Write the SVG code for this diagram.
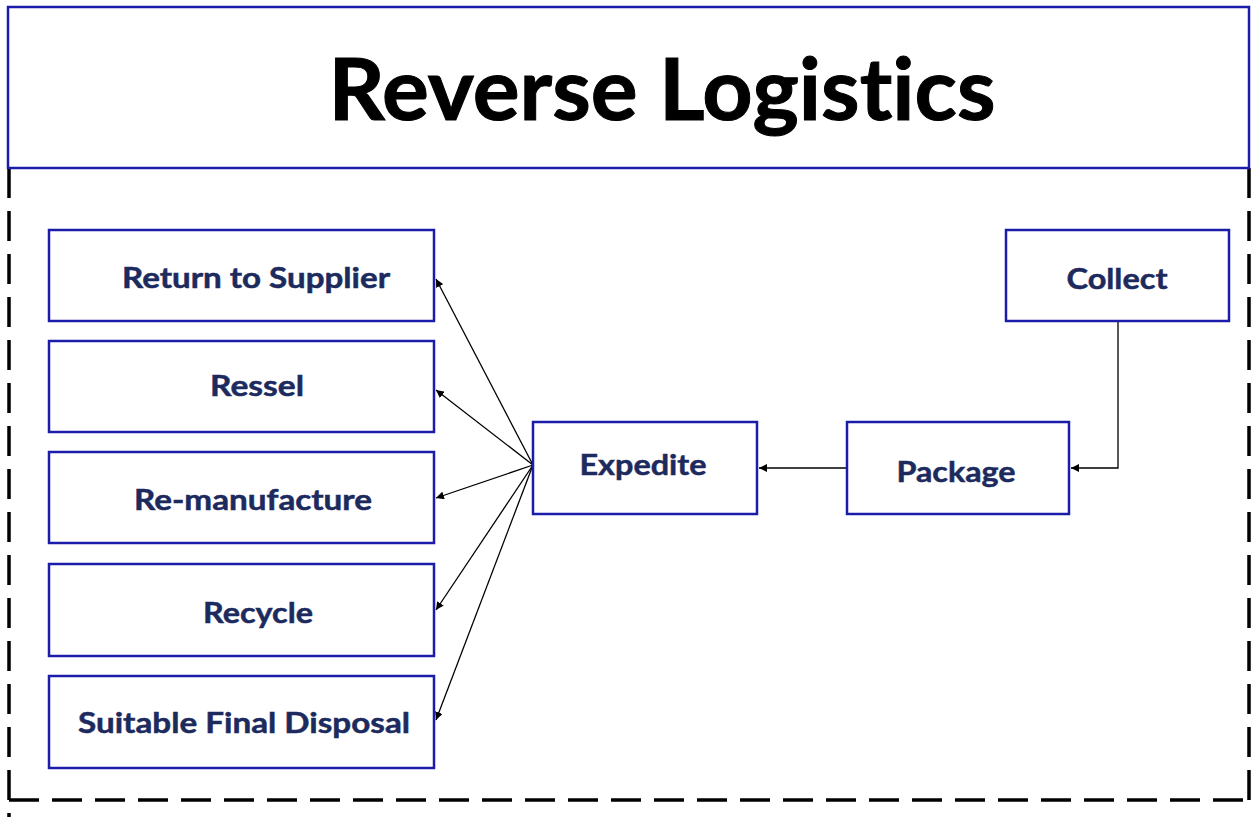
<svg xmlns="http://www.w3.org/2000/svg" width="1251" height="817" viewBox="0 0 1251 817">
<defs>
<style>
.box{fill:#fff;stroke:#1c1caa;stroke-width:2.5}
.lbl{font-family:Lato,"Liberation Sans",sans-serif;font-weight:bold;font-size:29px;fill:#1c2a5e;stroke:#1c2a5e;stroke-width:0.5;text-anchor:middle;font-variant-ligatures:none;font-feature-settings:"liga" 0,"clig" 0}
.title{font-family:Lato,"Liberation Sans",sans-serif;font-weight:bold;font-size:86px;fill:#000;stroke:#000;stroke-width:1;text-anchor:middle;font-variant-ligatures:none;font-feature-settings:"liga" 0,"clig" 0,"dlig" 0}
.dash{stroke:#000;stroke-width:3.5;stroke-dasharray:30 13;fill:none}
.con{stroke:#000;stroke-width:1.3;fill:none;marker-end:url(#ah)}
</style>
<marker id="ah" viewBox="0 0 10 10" refX="10" refY="5" markerWidth="8" markerHeight="8" markerUnits="userSpaceOnUse" orient="auto">
<path d="M0,0 L10,5 L0,10 z" fill="#000"/>
</marker>
</defs>
<rect width="1251" height="817" fill="#fff"/>
<g id="frame">
<path class="dash" d="M9,168 V817"/>
<path class="dash" d="M1249,168 V800"/>
<path class="dash" d="M9,800 H1251"/>
</g>
<g id="title">
<rect x="8" y="7" width="1241" height="161" class="box"/>
<text x="662" y="120" class="title" textLength="667" lengthAdjust="spacingAndGlyphs">Reverse Logistics</text>
</g>
<g id="connectors">
<path class="con" d="M533,465 L436,279"/>
<path class="con" d="M533,465 L436,390"/>
<path class="con" d="M533,465 L436,498"/>
<path class="con" d="M533,465 L436,610"/>
<path class="con" d="M533,465 L436,720"/>
<path class="con" d="M847,468 L759,468"/>
<path class="con" d="M1118,321 V468 H1071"/>
</g>
<g id="return">
<rect x="49" y="230" width="385" height="91" class="box"/>
<text x="256" y="288" class="lbl" textLength="268" lengthAdjust="spacingAndGlyphs">Return to Supplier</text>
</g>
<g id="ressel">
<rect x="49" y="341" width="385" height="91" class="box"/>
<text x="257" y="396" class="lbl" textLength="94" lengthAdjust="spacingAndGlyphs">Ressel</text>
</g>
<g id="remanufacture">
<rect x="49" y="452" width="385" height="91" class="box"/>
<text x="253" y="510" class="lbl" textLength="238" lengthAdjust="spacingAndGlyphs">Re-manufacture</text>
</g>
<g id="recycle">
<rect x="49" y="564" width="385" height="92" class="box"/>
<text x="258" y="623" class="lbl" textLength="110" lengthAdjust="spacingAndGlyphs">Recycle</text>
</g>
<g id="disposal">
<rect x="49" y="676" width="385" height="92" class="box"/>
<text x="244" y="733" class="lbl" textLength="332" lengthAdjust="spacingAndGlyphs">Suitable Final Disposal</text>
</g>
<g id="expedite">
<rect x="533" y="422" width="224" height="92" class="box"/>
<text x="643" y="475" class="lbl" textLength="127" lengthAdjust="spacingAndGlyphs">Expedite</text>
</g>
<g id="package">
<rect x="847" y="422" width="222" height="92" class="box"/>
<text x="956" y="482" class="lbl" textLength="119" lengthAdjust="spacingAndGlyphs">Package</text>
</g>
<g id="collect">
<rect x="1006" y="230" width="223" height="91" class="box"/>
<text x="1117" y="289" class="lbl" textLength="101" lengthAdjust="spacingAndGlyphs">Collect</text>
</g>
</svg>
